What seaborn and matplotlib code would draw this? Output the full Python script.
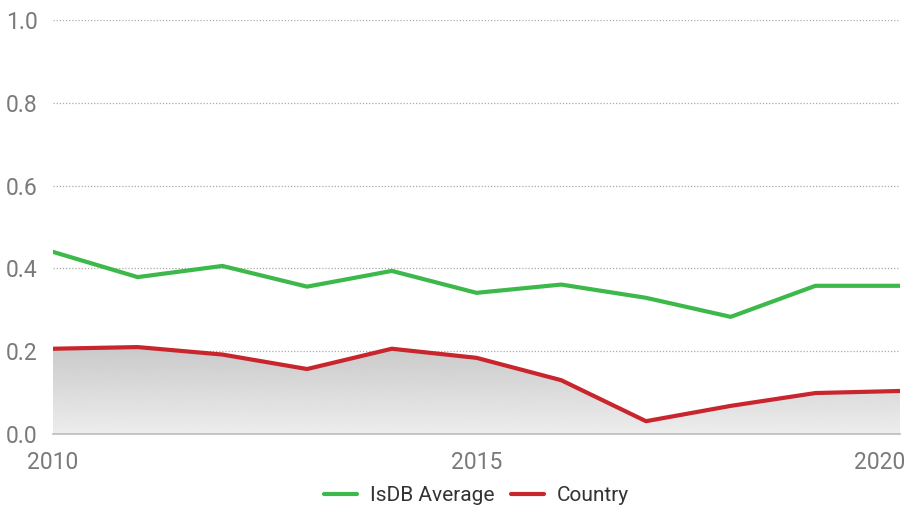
import numpy as np
import pandas as pd
import seaborn as sns
import matplotlib.pyplot as plt
import matplotlib.transforms as mtransforms

years = [2010, 2011, 2012, 2013, 2014, 2015, 2016, 2017, 2018, 2019, 2020]
isdb_avg = [0.44, 0.379, 0.406, 0.356, 0.394, 0.341, 0.361, 0.329, 0.283, 0.358, 0.358]
country = [0.206, 0.210, 0.192, 0.157, 0.206, 0.184, 0.130, 0.031, 0.068, 0.099, 0.104]
x_ticks = [2010, 2015, 2020]
y_ticks = [0.0, 0.2, 0.4, 0.6, 0.8, 1.0]

df = pd.DataFrame({'year': years, 'IsDB Average': isdb_avg, 'Country': country})
long_df = df.melt(id_vars='year', var_name='series', value_name='value')

sns.set_style('white')
plt.rcParams['font.family'] = ['Roboto', 'DejaVu Sans']

fig = plt.figure(figsize=(9.12, 5.09), dpi=100)
ax = fig.add_axes([0.058, 0.1473, 0.929, 0.8134])

# grey gradient under the country line
poly = ax.fill_between(df['year'], df['Country'], 0, color='none', lw=0)
grad = np.linspace(0.79, 0.93, 256).reshape(-1, 1)
img = ax.imshow(grad, cmap='gray', vmin=0, vmax=1, aspect='auto',
                extent=[years[0], years[-1], 0, max(country)], origin='upper', zorder=1)
img.set_clip_path(poly.get_paths()[0], transform=ax.transData)

sns.lineplot(data=long_df, x='year', y='value', hue='series',
             palette={'IsDB Average': '#3cb94a', 'Country': '#c9252c'},
             linewidth=3, ax=ax, zorder=3)

ax.set_xlim(years[0], years[-1])
ax.set_ylim(0, 1.0)
ax.set_xticks(x_ticks)
ax.set_yticks(y_ticks)
ax.set_yticklabels([f'{v:.1f}' for v in y_ticks])
ax.set_xlabel('')
ax.set_ylabel('')
for v in y_ticks[1:]:
    ax.axhline(v, color='#aaaaaa', lw=0.9, ls=(0, (1, 1.5)), zorder=0)

for s in ['top', 'right', 'left']:
    ax.spines[s].set_visible(False)
ax.spines['bottom'].set_color('#bbbbbb')
ax.spines['bottom'].set_linewidth(1.2)
ax.tick_params(axis='both', length=0, labelsize=16.5, labelcolor='#7a7a7a')
ax.tick_params(axis='y', pad=11)
ax.tick_params(axis='x', pad=12)
last = ax.get_xticklabels()[-1]
last.set_ha('right')
last.set_transform(last.get_transform() + mtransforms.ScaledTranslation(0.05, 0, fig.dpi_scale_trans))

handles, labels = ax.get_legend_handles_labels()
leg = ax.legend(handles, labels, loc='upper center', bbox_to_anchor=(0.5, -0.08),
                ncol=2, frameon=False, handlelength=1.6, columnspacing=0.8,
                handletextpad=0.6, prop={'family': ['Roboto', 'DejaVu Sans'], 'size': 15})
for t in leg.get_texts():
    t.set_color('#333333')

fig.savefig('out.png', dpi=100)
